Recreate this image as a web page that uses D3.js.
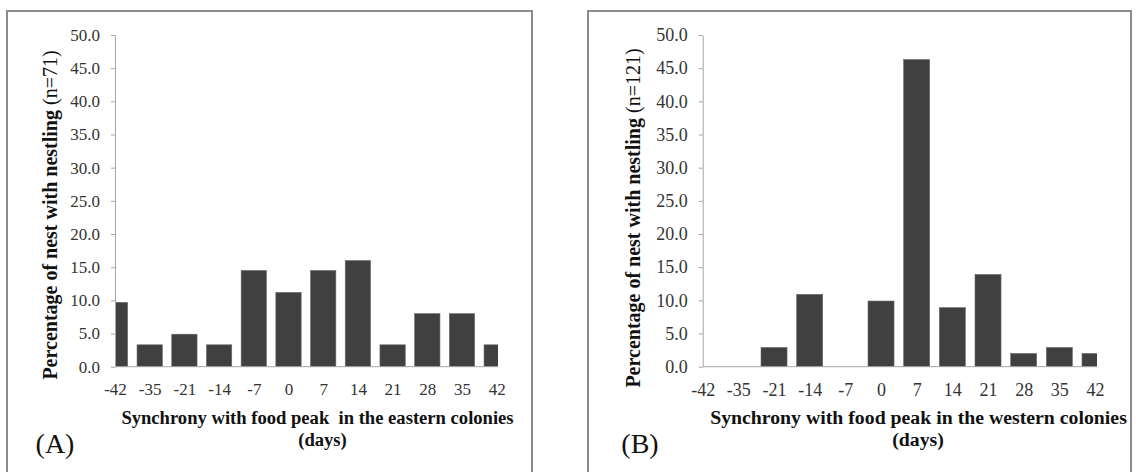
<!DOCTYPE html>
<html>
<head>
<meta charset="utf-8">
<script src="https://cdn.jsdelivr.net/npm/d3@7"></script>
<style>
  html, body { margin: 0; padding: 0; background: #fff; }
  svg { display: block; }
  text { font-family: "Liberation Serif", "Times New Roman", serif; }
</style>
</head>
<body>
<svg id="chart" width="1136" height="472"></svg>
<script>
// ---- data ----
const categories = ["-42", "-35", "-21", "-14", "-7", "0", "7", "14", "21", "28", "35", "42"];
const easternValues = [9.7, 3.3, 4.9, 3.3, 14.5, 11.2, 14.5, 16.0, 3.3, 8.0, 8.0, 3.3];
const westernValues = [0, 0, 2.9, 10.9, 0, 9.9, 46.3, 8.9, 13.9, 2.0, 2.9, 2.0];
const yTicks = [0, 5, 10, 15, 20, 25, 30, 35, 40, 45, 50];
const panelLetters = ["(A)", "(B)"];
const yTitlesBold = ["Percentage of nest with nestling ", "Percentage of nest with nestling "];
const yTitlesNormal = ["(n=71)", "(n=121)"];
const xTitles = ["Synchrony with food peak\u00a0 in the eastern colonies", "Synchrony with food peak in the western colonies"];
const xTitleUnit = "(days)";

const svg = d3.select("#chart");

const panels = [
  { values: easternValues, box: [7, 11, 532, 480], x0: 115, x1: 496.7, clipEnd: 498,
    tickFont: 17, xTitleFont: 18.6, yTitleX: 50, yTitleCy: 215, xTitleCx: 317.5, daysCx: 322.5,
    letterX: 55, letterY: 453, id: 0 },
  { values: westernValues, box: [588, 11, 1131, 480], x0: 702.7, x1: 1095, clipEnd: 1097,
    tickFont: 18, xTitleFont: 19.8, yTitleX: 633, yTitleCy: 218, xTitleCx: 918.5, daysCx: 918,
    letterX: 640, letterY: 453, id: 1 }
];

const yTop = 35, yBottom = 366.7;

panels.forEach(p => {
  const g = svg.append("g");

  // frame
  g.append("rect")
    .attr("x", p.box[0]).attr("y", p.box[1])
    .attr("width", p.box[2] - p.box[0]).attr("height", p.box[3] - p.box[1])
    .attr("fill", "none").attr("stroke", "#8c8c8c").attr("stroke-width", 2);

  const x = d3.scalePoint().domain(categories).range([p.x0, p.x1]);
  const y = d3.scaleLinear().domain([0, 50]).range([yBottom, yTop]);
  const bw = x.step() * 0.73;

  const clipId = "clip" + p.id;
  svg.append("clipPath").attr("id", clipId)
    .append("rect").attr("x", p.x0).attr("y", 0)
    .attr("width", p.clipEnd - p.x0).attr("height", yBottom + 1);

  // bars
  g.append("g").attr("clip-path", `url(#${clipId})`)
    .selectAll("rect").data(categories.map((c, i) => ({ c, v: p.values[i] })).filter(d => d.v > 0))
    .join("rect")
    .attr("x", d => x(d.c) - bw / 2)
    .attr("y", d => y(d.v))
    .attr("width", bw)
    .attr("height", d => yBottom - y(d.v))
    .attr("fill", "#404040")
    .attr("stroke", "#6a6a6a").attr("stroke-width", 0.6);

  // y axis
  const ya = g.append("g").attr("transform", `translate(${p.x0},0)`)
    .call(d3.axisLeft(y).tickValues(yTicks).tickFormat(d => d.toFixed(1))
      .tickSize(4).tickSizeOuter(0).tickPadding(11));
  ya.select(".domain").attr("stroke", "#a6a6a6");
  ya.selectAll(".tick line").attr("stroke", "#a6a6a6");
  ya.selectAll(".tick text").attr("font-size", p.tickFont).attr("fill", "#333");

  // x axis
  const xa = g.append("g").attr("transform", `translate(0,${yBottom})`)
    .call(d3.axisBottom(x).tickSize(0).tickPadding(16.7));
  xa.select(".domain").remove();
  xa.append("line").attr("x1", p.x0).attr("x2", p.clipEnd).attr("y1", 0).attr("y2", 0)
    .attr("stroke", "#a6a6a6");
  xa.selectAll(".tick text").attr("font-size", p.tickFont).attr("fill", "#333");

  // y title
  const yt = g.append("text")
    .attr("transform", `translate(${p.yTitleX},${p.yTitleCy}) rotate(-90)`)
    .attr("text-anchor", "middle").attr("dy", "0.35em")
    .attr("font-size", 20).attr("fill", "#111");
  yt.append("tspan").attr("font-weight", "bold").text(yTitlesBold[p.id]);
  yt.append("tspan").text(yTitlesNormal[p.id]);

  // x title
  g.append("text").attr("x", p.xTitleCx).attr("y", 424)
    .attr("text-anchor", "middle").attr("font-size", p.xTitleFont).attr("font-weight", "bold")
    .attr("fill", "#111").text(xTitles[p.id]);
  g.append("text").attr("x", p.daysCx).attr("y", 445.5)
    .attr("text-anchor", "middle").attr("font-size", p.xTitleFont).attr("font-weight", "bold")
    .attr("fill", "#111").text(xTitleUnit);

  // panel letter
  g.append("text").attr("x", p.letterX).attr("y", p.letterY)
    .attr("text-anchor", "middle").attr("font-size", 28).attr("fill", "#111")
    .text(panelLetters[p.id]);
});
</script>
</body>
</html>
